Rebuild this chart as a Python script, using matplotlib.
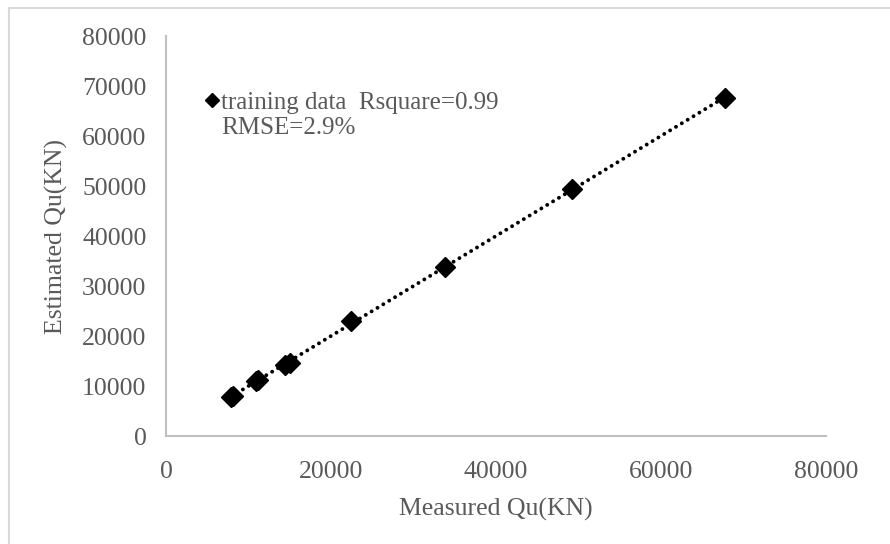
import matplotlib.pyplot as plt
import numpy as np
from matplotlib.lines import Line2D
from matplotlib.patches import Rectangle

plt.rcParams['font.family'] = ['Liberation Serif', 'DejaVu Serif']

# Measured vs. estimated pile capacity (kN)
measured = [7900, 8100, 10900, 11100, 14400, 15000, 22400, 33800, 49200, 67800]
estimated = [7800, 8000, 11000, 11200, 14200, 14600, 23000, 33800, 49400, 67600]
ticks = [0, 10000, 20000, 30000, 40000, 50000, 60000, 70000, 80000]
xticks = [0, 20000, 40000, 60000, 80000]

TEXT = '#595959'
AXIS = '#BFBFBF'

fig = plt.figure(figsize=(8.9, 5.44), dpi=100)
ax = fig.add_axes([0.1865, 0.1985, 0.7415, 0.7353])

# linear trendline across the data range
x = np.array(measured, dtype=float)
y = np.array(estimated, dtype=float)
k, b = np.polyfit(x, y, 1)
xs = np.array([x.min(), x.max()])
ax.plot(xs, k * xs + b, color='black', linewidth=2.8,
        linestyle=(0, (0.01, 1.75)), dash_capstyle='round', zorder=2)

ax.plot(measured, estimated, linestyle='none', marker='D', markersize=10.5,
        color='black', zorder=3)

ax.set_xlim(0, 80000)
ax.set_ylim(0, 80000)
ax.set_xticks(xticks)
ax.set_yticks(ticks)
ax.tick_params(length=0, labelsize=18.5, labelcolor=TEXT)
ax.tick_params(axis='x', pad=18)
ax.tick_params(axis='y', pad=14)

for side in ('top', 'right'):
    ax.spines[side].set_visible(False)
for side in ('left', 'bottom'):
    ax.spines[side].set_color(AXIS)
    ax.spines[side].set_linewidth(1.5)

ax.set_xlabel('Measured Qu(KN)', fontsize=18.5, color=TEXT, labelpad=11)
ax.set_ylabel('Estimated Qu(KN)', fontsize=18.5, color=TEXT, labelpad=10)

# legend: marker on the first line, RMSE on a second line without a marker
handle = Line2D([], [], linestyle='none', marker='D', markersize=7.5, color='black')
blank = Line2D([], [], linestyle='none')
ax.legend([handle, blank], ['training data  Rsquare=0.99', 'RMSE=2.9%'],
          loc='upper left', bbox_to_anchor=(0.04, 0.892), frameon=False,
          handlelength=0.6, handletextpad=0.05, borderpad=0, labelspacing=0.1,
          prop={'size': 18}, labelcolor=TEXT)

# light frame around the chart area
fig.patches.append(Rectangle((8.5 / 890, -0.1), 1.2, 1.1 - 8.5 / 544,
                             transform=fig.transFigure, fill=False,
                             edgecolor='#D9D9D9', linewidth=1.5))

fig.savefig('out.png', dpi=100)
